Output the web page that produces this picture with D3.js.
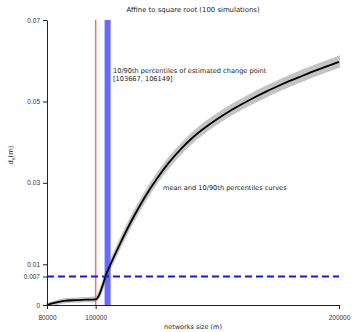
<!DOCTYPE html>
<html>
<head>
<meta charset="utf-8">
<script src="https://cdn.jsdelivr.net/npm/d3@7"></script>
<style>
  body { margin: 0; background: #fff; }
  svg { font-family: "DejaVu Sans", sans-serif; }
  .tick text { fill: #333; font-size: 6.5px; }
</style>
</head>
<body>
<svg id="vis" width="353" height="332"></svg>
<script>
// network sizes (m)
var sizes = [80000, 83000, 87000, 92000, 96000, 100000, 105000, 110000, 115000, 120000,
  125000, 130000, 135000, 140000, 145000, 150000, 155000, 160000, 165000, 170000,
  175000, 180000, 185000, 190000, 195000, 200000];
// mean curve
var meanCurve = [0.0000, 0.0005, 0.0010, 0.0012, 0.0013, 0.0014, 0.0085, 0.0150, 0.0210, 0.0263,
  0.0309, 0.0349, 0.0383, 0.0412, 0.0436, 0.0457, 0.0476, 0.0493, 0.0509, 0.0524,
  0.0538, 0.0551, 0.0563, 0.0575, 0.0586, 0.0597];
// 10th percentile curve
var p10Curve = [0.0000, 0.0002, 0.0006, 0.0008, 0.0009, 0.0010, 0.0077, 0.0141, 0.0200, 0.0253,
  0.0299, 0.0338, 0.0372, 0.0401, 0.0425, 0.0446, 0.0465, 0.0482, 0.0497, 0.0512,
  0.0526, 0.0539, 0.0551, 0.0563, 0.0574, 0.0585];
// 90th percentile curve
var p90Curve = [0.0002, 0.0008, 0.0014, 0.0016, 0.0017, 0.0019, 0.0093, 0.0159, 0.0220, 0.0273,
  0.0320, 0.0360, 0.0394, 0.0423, 0.0448, 0.0469, 0.0488, 0.0505, 0.0521, 0.0536,
  0.0550, 0.0563, 0.0576, 0.0588, 0.0599, 0.0610];

var changeLine = 100000;
var changeBand = [103667, 106149];
var threshold = 0.007;

var xTicks = [80000, 100000, 200000];
var yTicks = [0, 0.007, 0.01, 0.03, 0.05, 0.07];

var margin = {top: 20, right: 14, bottom: 27, left: 47};
var width = 353 - margin.left - margin.right;
var height = 332 - margin.top - margin.bottom;

var svg = d3.select('#vis');
var g = svg.append('g').attr('transform', 'translate(' + margin.left + ', ' + margin.top + ')');

var x = d3.scaleLinear().domain([80000, 200000]).range([0, width]);
var y = d3.scaleLinear().domain([0, 0.07]).range([height, 0]);

var data = sizes.map(function(s, i) {
  return {size: s, mean: meanCurve[i], lo: p10Curve[i], hi: p90Curve[i]};
});

// Percentile band
g.append('path')
  .datum(data)
  .attr('fill', '#c4c4c4')
  .attr('stroke', '#c4c4c4')
  .attr('stroke-width', 2)
  .attr('d', d3.area()
    .x(function(d) { return x(d.size) })
    .y0(function(d) { return y(d.lo) })
    .y1(function(d) { return y(d.hi) })
    .curve(d3.curveMonotoneX));

// Change point band
g.append('rect')
  .attr('x', x(changeBand[0]))
  .attr('width', x(changeBand[1]) - x(changeBand[0]))
  .attr('y', 0)
  .attr('height', height)
  .attr('fill', '#5a5aff')
  .attr('opacity', 0.9);

// Change point line
g.append('line')
  .attr('x1', x(changeLine)).attr('x2', x(changeLine))
  .attr('y1', 0).attr('y2', height)
  .attr('stroke', '#e8737b')
  .attr('stroke-width', 1.5);

// Mean
g.append('path')
  .datum(data)
  .attr('fill', 'none')
  .attr('stroke', '#000')
  .attr('stroke-width', 1.8)
  .attr('d', d3.line()
    .x(function(d) { return x(d.size) })
    .y(function(d) { return y(d.mean) })
    .curve(d3.curveMonotoneX));

// Threshold
g.append('line')
  .attr('x1', 0).attr('x2', width)
  .attr('y1', y(threshold)).attr('y2', y(threshold))
  .attr('stroke', '#1a1acc')
  .attr('stroke-width', 2)
  .style('stroke-dasharray', '7 4');

// Axes
var xAxis = g.append('g')
  .attr('transform', 'translate(0, ' + height + ')')
  .call(d3.axisBottom(x).tickValues(xTicks).tickFormat(d3.format('d')).tickSize(4).tickSizeOuter(0));

var yAxis = g.append('g')
  .call(d3.axisLeft(y).tickValues(yTicks).tickFormat(function(d) { return d === 0 ? '0' : String(d) }).tickSize(4).tickSizeOuter(0));

[xAxis, yAxis].forEach(function(a) {
  a.select('.domain').attr('stroke', '#222');
  a.selectAll('.tick line').attr('stroke', '#222');
});
xAxis.selectAll('.tick text').attr('dy', '1.2em');

// Texts
svg.append('text')
  .attr('x', 193).attr('y', 12)
  .attr('text-anchor', 'middle')
  .attr('font-size', 6.9).attr('fill', '#222')
  .text('Affine to square root (100 simulations)');

svg.append('text')
  .attr('x', 193).attr('y', 329)
  .attr('text-anchor', 'middle')
  .attr('font-size', 6.5).attr('fill', '#222')
  .text('networks size (m)');

var yl = svg.append('text')
  .attr('transform', 'translate(13, 155) rotate(-90)')
  .attr('text-anchor', 'middle')
  .attr('font-size', 6.8).attr('fill', '#222');
yl.append('tspan').text('d');
yl.append('tspan').attr('font-size', 5).attr('dy', 2).text('s');
yl.append('tspan').attr('dy', -2).text('(m)');

svg.append('text')
  .attr('x', 113).attr('y', 73)
  .attr('font-size', 6.6).attr('fill', '#222')
  .text('10/90th percentiles of estimated change point');
svg.append('text')
  .attr('x', 113).attr('y', 81)
  .attr('font-size', 6.6).attr('fill', '#222')
  .text('[' + changeBand[0] + ', ' + changeBand[1] + ']');

svg.append('text')
  .attr('x', 163).attr('y', 190)
  .attr('font-size', 6.6).attr('fill', '#222')
  .text('mean and 10/90th percentiles curves');
</script>
</body>
</html>
